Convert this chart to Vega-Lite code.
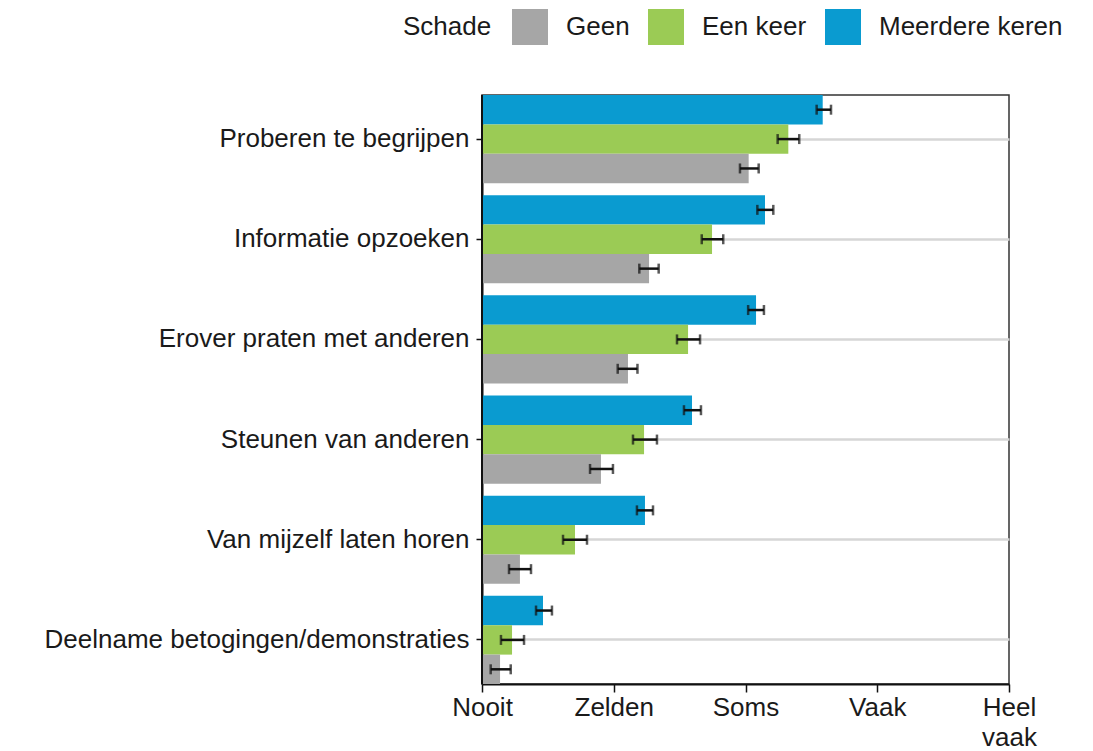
{
  "$schema": "https://vega.github.io/schema/vega-lite/v6.json",
  "width": 527,
  "height": 589,
  "autosize": {"type": "none"},
  "padding": {"left": 482, "top": 95, "right": 84, "bottom": 67},
  "background": "white",
  "config": {
    "font": "Liberation Sans",
    "view": {"stroke": "#333333", "strokeWidth": 1.5},
    "axis": {"labelFont": "Liberation Sans", "labelFontSize": 26, "labelColor": "#1a1a1a", "domainColor": "#111111", "domainWidth": 2, "tickColor": "#111111", "tickWidth": 1.5, "title": null, "labelLimit": 0},
    "legend": {"labelFont": "Liberation Sans", "titleFont": "Liberation Sans", "labelLimit": 0, "titleLimit": 0}
  },
  "data": {
    "values": [
      {"cat": "Proberen te begrijpen", "schade": "Meerdere keren", "v": 3.586, "lo": 3.54, "hi": 3.649},
      {"cat": "Proberen te begrijpen", "schade": "Een keer", "v": 3.325, "lo": 3.244, "hi": 3.408},
      {"cat": "Proberen te begrijpen", "schade": "Geen", "v": 3.024, "lo": 2.958, "hi": 3.1},
      {"cat": "Informatie opzoeken", "schade": "Meerdere keren", "v": 3.148, "lo": 3.09, "hi": 3.211},
      {"cat": "Informatie opzoeken", "schade": "Een keer", "v": 2.746, "lo": 2.668, "hi": 2.831},
      {"cat": "Informatie opzoeken", "schade": "Geen", "v": 2.268, "lo": 2.194, "hi": 2.341},
      {"cat": "Erover praten met anderen", "schade": "Meerdere keren", "v": 3.08, "lo": 3.02, "hi": 3.14},
      {"cat": "Erover praten met anderen", "schade": "Een keer", "v": 2.564, "lo": 2.48, "hi": 2.655},
      {"cat": "Erover praten met anderen", "schade": "Geen", "v": 2.108, "lo": 2.03, "hi": 2.18},
      {"cat": "Steunen van anderen", "schade": "Meerdere keren", "v": 2.594, "lo": 2.533, "hi": 2.662},
      {"cat": "Steunen van anderen", "schade": "Een keer", "v": 2.23, "lo": 2.146, "hi": 2.328},
      {"cat": "Steunen van anderen", "schade": "Geen", "v": 1.903, "lo": 1.82, "hi": 1.994},
      {"cat": "Van mijzelf laten horen", "schade": "Meerdere keren", "v": 2.237, "lo": 2.176, "hi": 2.298},
      {"cat": "Van mijzelf laten horen", "schade": "Een keer", "v": 1.706, "lo": 1.615, "hi": 1.797},
      {"cat": "Van mijzelf laten horen", "schade": "Geen", "v": 1.288, "lo": 1.205, "hi": 1.372},
      {"cat": "Deelname betogingen/demonstraties", "schade": "Meerdere keren", "v": 1.463, "lo": 1.41, "hi": 1.531},
      {"cat": "Deelname betogingen/demonstraties", "schade": "Een keer", "v": 1.228, "lo": 1.144, "hi": 1.319},
      {"cat": "Deelname betogingen/demonstraties", "schade": "Geen", "v": 1.137, "lo": 1.066, "hi": 1.218}
    ]
  },
  "layer": [
    {
      "mark": {"type": "bar"},
      "encoding": {
        "y": {
          "field": "cat", "type": "nominal",
          "sort": ["Proberen te begrijpen", "Informatie opzoeken", "Erover praten met anderen", "Steunen van anderen", "Van mijzelf laten horen", "Deelname betogingen/demonstraties"],
          "scale": {"paddingInner": 0.12, "paddingOuter": 0},
          "axis": {"grid": true, "gridColor": "#d6d6d6", "gridWidth": 2.5, "bandPosition": 0.5, "tickSize": 6, "labelPadding": 7, "domain": true, "zindex": 0}
        },
        "yOffset": {
          "field": "schade", "type": "nominal",
          "sort": ["Meerdere keren", "Een keer", "Geen"],
          "scale": {"paddingInner": 0, "paddingOuter": 0}
        },
        "x": {
          "field": "v", "type": "quantitative",
          "scale": {"domain": [1, 5], "zero": false, "nice": false},
          "axis": {"values": [1, 2, 3, 4, 5], "grid": false, "tickSize": 8, "labelPadding": 2, "labelLineHeight": 30, "labelFlush": false, "labelAlign": "center",
            "labelExpr": "datum.value == 1 ? 'Nooit' : datum.value == 2 ? 'Zelden' : datum.value == 3 ? 'Soms' : datum.value == 4 ? 'Vaak' : ['Heel', 'vaak']"}
        },
        "x2": {"datum": 1},
        "color": {
          "field": "schade", "type": "nominal",
          "scale": {"domain": ["Geen", "Een keer", "Meerdere keren"], "range": ["#a6a6a6", "#9bcb55", "#0a9bd0"]},
          "legend": {
            "title": "Schade", "orient": "none", "legendX": -79, "legendY": -86,
            "direction": "horizontal", "titleOrient": "left", "titleFontSize": 26, "titleFontWeight": "normal", "titleColor": "#1a1a1a",
            "titleBaseline": "middle", "titleAnchor": "middle",
            "symbolType": "square", "symbolSize": 1296, "symbolStrokeWidth": 0, "symbolOpacity": 1,
            "labelFontSize": 26, "labelColor": "#1a1a1a", "labelOffset": 18, "columnPadding": 18, "titlePadding": 20
          }
        }
      }
    },
    {
      "mark": {"type": "rule", "color": "#111111", "strokeWidth": 2},
      "encoding": {"x": {"datum": 1, "type": "quantitative"}}
    },
    {
      "mark": {"type": "rule", "color": "#111111", "strokeWidth": 2.5},
      "encoding": {
        "y": {"field": "cat", "type": "nominal", "sort": ["Proberen te begrijpen", "Informatie opzoeken", "Erover praten met anderen", "Steunen van anderen", "Van mijzelf laten horen", "Deelname betogingen/demonstraties"]},
        "yOffset": {"field": "schade", "type": "nominal", "sort": ["Meerdere keren", "Een keer", "Geen"]},
        "x": {"field": "lo", "type": "quantitative"},
        "x2": {"field": "hi"}
      }
    },
    {
      "mark": {"type": "tick", "color": "#111111", "thickness": 2.5, "size": 10, "orient": "vertical"},
      "encoding": {
        "y": {"field": "cat", "type": "nominal", "sort": ["Proberen te begrijpen", "Informatie opzoeken", "Erover praten met anderen", "Steunen van anderen", "Van mijzelf laten horen", "Deelname betogingen/demonstraties"]},
        "yOffset": {"field": "schade", "type": "nominal", "sort": ["Meerdere keren", "Een keer", "Geen"]},
        "x": {"field": "lo", "type": "quantitative"}
      }
    },
    {
      "mark": {"type": "tick", "color": "#111111", "thickness": 2.5, "size": 10, "orient": "vertical"},
      "encoding": {
        "y": {"field": "cat", "type": "nominal", "sort": ["Proberen te begrijpen", "Informatie opzoeken", "Erover praten met anderen", "Steunen van anderen", "Van mijzelf laten horen", "Deelname betogingen/demonstraties"]},
        "yOffset": {"field": "schade", "type": "nominal", "sort": ["Meerdere keren", "Een keer", "Geen"]},
        "x": {"field": "hi", "type": "quantitative"}
      }
    }
  ]
}
